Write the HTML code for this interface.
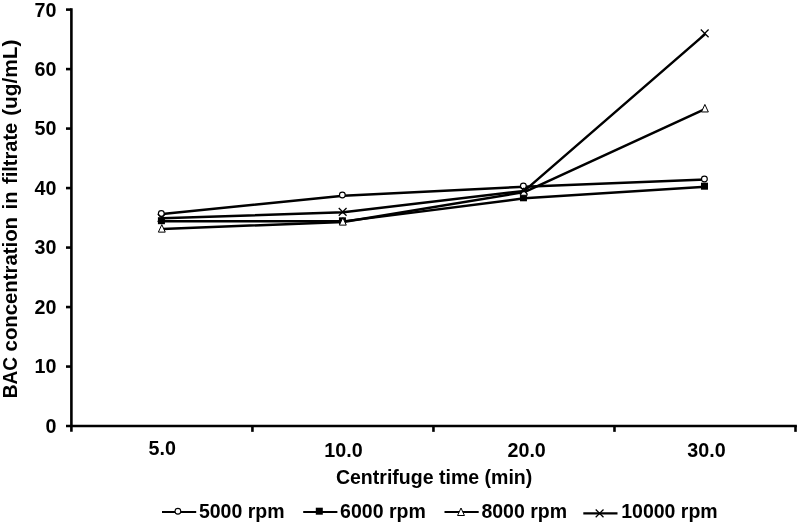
<!DOCTYPE html>
<html><head><meta charset="utf-8"><title>chart</title>
<style>
html,body{margin:0;padding:0;background:#fff;}
body{width:799px;height:524px;overflow:hidden;}
svg{display:block;filter:grayscale(1);}
text{font-family:"Liberation Sans",sans-serif;font-weight:bold;fill:#000;}
</style></head><body>
<svg width="799" height="524" viewBox="0 0 799 524">
<rect width="799" height="524" fill="#fff"/>
<g>
<g stroke="#000" stroke-width="2.6" fill="none" stroke-linecap="butt">
<path d="M71.4 8.30 V431.85"/>
<path d="M66.00 426.05 H796.90"/>
<path d="M66.00 366.56 H71.4"/>
<path d="M66.00 307.06 H71.4"/>
<path d="M66.00 247.57 H71.4"/>
<path d="M66.00 188.08 H71.4"/>
<path d="M66.00 128.59 H71.4"/>
<path d="M66.00 69.09 H71.4"/>
<path d="M66.00 9.60 H71.4"/>
<path d="M252.43 426.05 V431.85"/>
<path d="M433.45 426.05 V431.85"/>
<path d="M614.48 426.05 V431.85"/>
<path d="M795.50 426.05 V431.85"/>
</g>
<text x="56.5" y="432.95" font-size="19.7" text-anchor="end">0</text>
<text x="56.5" y="373.46" font-size="19.7" text-anchor="end">10</text>
<text x="56.5" y="313.96" font-size="19.7" text-anchor="end">20</text>
<text x="56.5" y="254.47" font-size="19.7" text-anchor="end">30</text>
<text x="56.5" y="194.98" font-size="19.7" text-anchor="end">40</text>
<text x="56.5" y="135.49" font-size="19.7" text-anchor="end">50</text>
<text x="56.5" y="75.99" font-size="19.7" text-anchor="end">60</text>
<text x="56.5" y="16.50" font-size="19.7" text-anchor="end">70</text>
<text x="162.21" y="455.2" font-size="19.7" text-anchor="middle">5.0</text>
<text x="343.44" y="457.1" font-size="19.7" text-anchor="middle">10.0</text>
<text x="526.66" y="457.2" font-size="19.7" text-anchor="middle">20.0</text>
<text x="706.49" y="457.2" font-size="19.7" text-anchor="middle">30.0</text>
<text x="434.1" y="484.1" font-size="19.55" text-anchor="middle">Centrifuge time (min)</text>
<text transform="translate(16.9 398.30) rotate(-90) scale(0.9300 1)" font-size="20.5">BAC</text>
<text transform="translate(16.9 351.40) rotate(-90) scale(0.9920 1)" font-size="20.5">concentration</text>
<text transform="translate(16.9 209.40) rotate(-90) scale(0.9800 1)" font-size="20.5">in</text>
<text transform="translate(16.9 183.90) rotate(-90) scale(0.9750 1)" font-size="20.5">filtrate</text>
<text transform="translate(16.9 115.80) rotate(-90) scale(1.0150 1)" font-size="20.5">(ug/mL)</text>
<polyline transform="translate(0.4 0.45)" points="161.91,213.66 342.94,195.22 523.96,186.29 704.99,179.15" fill="none" stroke="#000" stroke-width="2.5" stroke-linejoin="round"/>
<circle cx="161.31" cy="213.46" r="2.9" fill="#fff" stroke="#000" stroke-width="1.15"/>
<circle cx="342.34" cy="195.02" r="2.9" fill="#fff" stroke="#000" stroke-width="1.15"/>
<circle cx="523.36" cy="186.09" r="2.9" fill="#fff" stroke="#000" stroke-width="1.15"/>
<circle cx="704.39" cy="178.95" r="2.9" fill="#fff" stroke="#000" stroke-width="1.15"/>
<polyline transform="translate(0.4 0.45)" points="161.91,220.80 342.94,220.92 523.96,197.89 704.99,186.29" fill="none" stroke="#000" stroke-width="2.5" stroke-linejoin="round"/>
<rect x="157.91" y="217.20" width="7" height="7" fill="#000"/>
<rect x="338.94" y="217.32" width="7" height="7" fill="#000"/>
<rect x="519.96" y="194.29" width="7" height="7" fill="#000"/>
<rect x="700.99" y="182.69" width="7" height="7" fill="#000"/>
<polyline transform="translate(0.4 0.45)" points="161.91,228.53 342.94,221.51 523.96,191.65 704.99,108.36" fill="none" stroke="#000" stroke-width="2.5" stroke-linejoin="round"/>
<path d="M161.81 224.63 L165.26 232.13 L158.36 232.13 Z" fill="#fff" stroke="#000" stroke-width="1" stroke-linejoin="miter"/>
<path d="M342.84 217.61 L346.29 225.11 L339.39 225.11 Z" fill="#fff" stroke="#000" stroke-width="1" stroke-linejoin="miter"/>
<path d="M523.86 187.75 L527.31 195.25 L520.41 195.25 Z" fill="#fff" stroke="#000" stroke-width="1" stroke-linejoin="miter"/>
<path d="M704.89 104.46 L708.34 111.96 L701.44 111.96 Z" fill="#fff" stroke="#000" stroke-width="1" stroke-linejoin="miter"/>
<polyline transform="translate(0.4 0.45)" points="161.91,217.83 342.94,211.88 523.96,190.46 704.99,33.40" fill="none" stroke="#000" stroke-width="2.5" stroke-linejoin="round"/>
<path d="M157.71 213.93 L165.51 221.73 M157.71 221.73 L165.51 213.93" fill="none" stroke="#000" stroke-width="1.25"/>
<path d="M338.74 207.98 L346.54 215.78 M338.74 215.78 L346.54 207.98" fill="none" stroke="#000" stroke-width="1.25"/>
<path d="M519.76 186.56 L527.56 194.36 M519.76 194.36 L527.56 186.56" fill="none" stroke="#000" stroke-width="1.25"/>
<path d="M700.79 29.50 L708.59 37.30 M700.79 37.30 L708.59 29.50" fill="none" stroke="#000" stroke-width="1.25"/>
<path d="M162.0 511.9 H196.2" stroke="#000" stroke-width="2.05" fill="none"/>
<circle cx="177.90" cy="511.25" r="2.9" fill="#fff" stroke="#000" stroke-width="1.15"/>
<text x="198.90" y="517.8" font-size="19.5">5000 rpm</text>
<path d="M303.2 511.9 H337.4" stroke="#000" stroke-width="2.05" fill="none"/>
<rect x="315.80" y="507.70" width="7" height="7" fill="#000"/>
<text x="340.10" y="517.8" font-size="19.5">6000 rpm</text>
<path d="M444.5 511.9 H478.7" stroke="#000" stroke-width="2.05" fill="none"/>
<path d="M461.00 508.00 L464.45 515.50 L457.55 515.50 Z" fill="#fff" stroke="#000" stroke-width="1" stroke-linejoin="miter"/>
<text x="481.40" y="517.8" font-size="19.5">8000 rpm</text>
<path d="M583.3 513.35 H617.5" stroke="#000" stroke-width="2.45" fill="none"/>
<path d="M595.70 509.45 L603.50 517.25 M595.70 517.25 L603.50 509.45" fill="none" stroke="#000" stroke-width="1.25"/>
<text x="621.20" y="517.8" font-size="19.5">10000 rpm</text>
</g></svg></body></html>
